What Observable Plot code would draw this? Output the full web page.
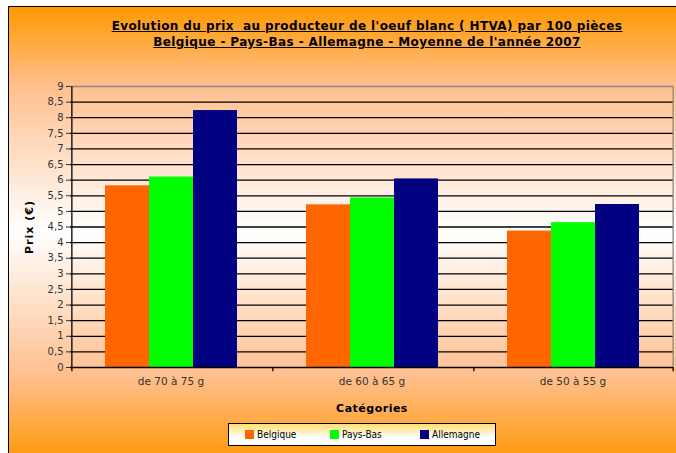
<!DOCTYPE html>
<html>
<head>
<meta charset="utf-8">
<script src="https://cdn.jsdelivr.net/npm/d3@7"></script>
<script src="https://cdn.jsdelivr.net/npm/@observablehq/plot@0.6"></script>
<style>
  html, body { margin: 0; padding: 0; background: #fff; overflow: hidden; }
  #page { position: relative; width: 676px; height: 453px; overflow: hidden; font-family: "DejaVu Sans", sans-serif; }
  #bg { position: absolute; left: 8px; top: 6px; width: 720px; height: 448px;
        border-left: 1.5px solid #000; border-top: 1.5px solid #000;
        background: linear-gradient(to bottom, #FF9900 0%, #FFC090 18%, #FFFFFF 50%, #FFC090 82%, #FF9A10 100%); }
  #title { position: absolute; left: 0; top: 18px; width: 734px; text-align: center;
           font: bold 12px "DejaVu Sans", sans-serif; letter-spacing: 0.4px; line-height: 16px; text-decoration: underline; color: #000; }
  #plot { position: absolute; left: 0; top: 51px; }
  #ylabel { position: absolute; left: 29px; top: 227px; transform: translate(-50%, -50%) rotate(-90deg);
            font: bold 11px "DejaVu Sans", sans-serif; letter-spacing: 1px; white-space: nowrap; color: #000; }
  #xlabel { position: absolute; left: 372px; top: 408px; transform: translate(-50%, -50%);
            font: bold 11px "DejaVu Sans", sans-serif; letter-spacing: 0.5px; white-space: nowrap; color: #000; }
  #legend { position: absolute; left: 228px; top: 423px; width: 266px; height: 21px;
            border: 1.5px solid #000; background: linear-gradient(to bottom, #FFE070 0%, #FFFFFF 65%);
            font: 10px "DejaVu Sans Condensed", "DejaVu Sans", sans-serif; color: #000; }
  .item { position: absolute; top: 5px; display: flex; align-items: center; white-space: nowrap; }
  .sw { width: 9px; height: 9px; margin-right: 3px; }
</style>
</head>
<body>
<div id="page">
  <div id="bg"></div>
  <div id="title">Evolution du prix&nbsp; au producteur de l'oeuf blanc ( HTVA) par 100 pièces<br>Belgique - Pays-Bas - Allemagne - Moyenne de l'année 2007</div>
  <div id="plot"></div>
  <div id="ylabel">Prix (€)</div>
  <div id="xlabel">Catégories</div>
  <div id="legend"></div>
</div>
<script>
const categories = ["de 70 à 75 g", "de 60 à 65 g", "de 50 à 55 g"];
const series = ["Belgique", "Pays-Bas", "Allemagne"];
const belgique = [5.82, 5.21, 4.37];
const paysBas = [6.10, 5.43, 4.64];
const allemagne = [8.23, 6.04, 5.22];
const colors = ["#FF6600", "#00FF00", "#000080"];
const yTicks = [0, 0.5, 1, 1.5, 2, 2.5, 3, 3.5, 4, 4.5, 5, 5.5, 6, 6.5, 7, 7.5, 8, 8.5, 9];

const seriesValues = [belgique, paysBas, allemagne];
const data = categories.flatMap((c, i) => series.map((s, j) => ({category: c, series: s, value: seriesValues[j][i]})));

const W = 676, H = 375, mL = 70, mR = 3, mT = 35, mB = 59;
const padOuter = 0.74;
const facetW = (W - mL - mR) / categories.length;
const step = facetW / (series.length + 2 * padOuter);
const edge = step * padOuter + step / 2;

const first = categories.map(c => ({category: c, series: series[0]}));
const last = [{category: categories[categories.length - 1], series: series[series.length - 1]}];

const chart = Plot.plot({
  width: W, height: H, marginLeft: mL, marginRight: mR, marginTop: mT, marginBottom: mB,
  style: {background: "transparent", overflow: "visible", fontFamily: "'DejaVu Sans', sans-serif"},
  fx: {domain: categories, padding: 0, label: null, axis: null},
  x: {domain: series, paddingInner: 0, paddingOuter: padOuter, axis: null},
  y: {domain: [0, 9], axis: null},
  color: {domain: series, range: colors},
  marks: [
    Plot.ruleY(yTicks.filter(t => t > 0 && t < 9), {stroke: "#000", strokeWidth: 1.3}),
    Plot.ruleY([9], {stroke: "#888", strokeWidth: 1.3}),
    Plot.barY(data, {fx: "category", x: "series", y: "value", fill: "series"}),
    Plot.ruleY([0], {stroke: "#000", strokeWidth: 1.5}),
    Plot.ruleX(first.slice(0, 1), {fx: "category", x: "series", dx: -edge, stroke: "#000", strokeWidth: 1.3}),
    Plot.ruleX(last, {fx: "category", x: "series", dx: edge, stroke: "#888", strokeWidth: 1.3}),
    Plot.ruleX(first, {fx: "category", x: "series", dx: -edge, y1: 0, y2: -0.14, stroke: "#000", strokeWidth: 1.3}),
    Plot.ruleX(last, {fx: "category", x: "series", dx: edge, y1: 0, y2: -0.14, stroke: "#000", strokeWidth: 1.3}),
    Plot.axisY({ticks: yTicks, tickFormat: d => String(d).replace(".", ","), tickSize: 4, tickPadding: 3,
                fontSize: 10, color: "#333", label: null}),
    Plot.axisFx({anchor: "bottom", tickSize: 0, tickPadding: 10, fontSize: 10.5, color: "#333", label: null})
  ]
});
document.getElementById("plot").appendChild(chart);

const legend = document.getElementById("legend");
const lx = [16, 101, 191];
series.forEach((s, i) => {
  const it = document.createElement("div");
  it.className = "item";
  it.style.left = lx[i] + "px";
  const sw = document.createElement("div");
  sw.className = "sw";
  sw.style.background = colors[i];
  const t = document.createElement("span");
  t.textContent = s;
  it.appendChild(sw);
  it.appendChild(t);
  legend.appendChild(it);
});
</script>
</body>
</html>
